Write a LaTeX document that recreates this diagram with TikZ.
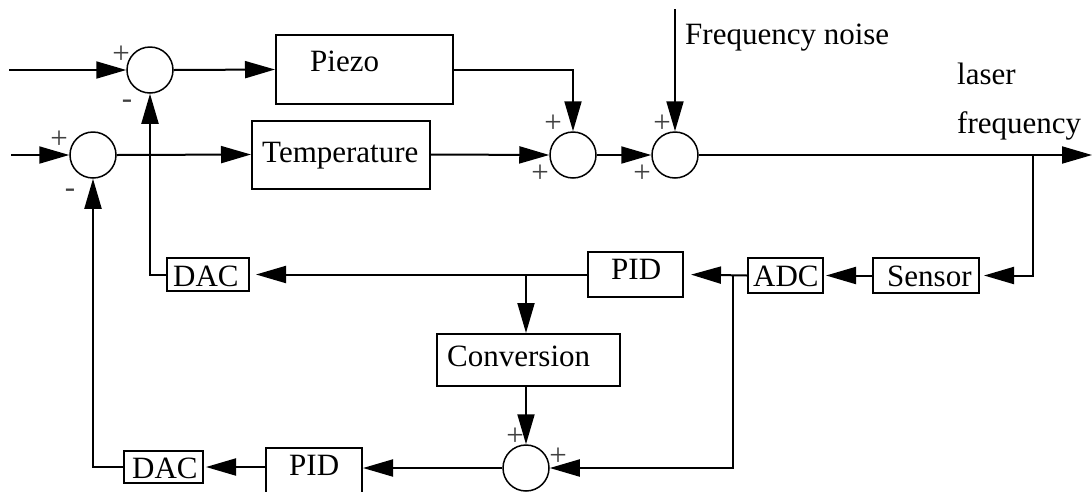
\documentclass[tikz,border=0pt]{standalone}
\usepackage{fontspec}
\setmainfont{Liberation Serif}
\usetikzlibrary{arrows.meta}
\begin{document}
\begin{tikzpicture}[x=1pt,y=-1pt,
 arr/.style={-{Triangle[length=30pt,width=17pt]}, line width=2pt},
 box/.style={draw, line width=2pt, inner sep=0pt},
 sum/.style={draw, circle, line width=1.5pt, minimum size=46pt, inner sep=0pt},
 txt/.style={font=\fontsize{31}{36}\selectfont, inner sep=0pt, anchor=base west},
 sgn/.style={font=\fontsize{31}{36}\selectfont, inner sep=0pt, text=black!75}]
\useasboundingbox (0,0) rectangle (1092,491);

% summing junctions
\node[sum] (s1) at (150,70) {};
\node[sum] (s2) at (93,155) {};
\node[sum] (s3) at (573,155) {};
\node[sum] (s4) at (675,155) {};
\node[sum] (s5) at (526,468) {};

% boxes
\node[box, minimum width=177pt, minimum height=69pt] (piezo) at (364.5,69.5) {};
\node[box, minimum width=178pt, minimum height=68pt] (temp) at (341,154.5) {};
\node[box, minimum width=82pt, minimum height=33pt] (dac1) at (208,274.5) {};
\node[box, minimum width=95pt, minimum height=45pt] (pid1) at (635.5,274.5) {};
\node[box, minimum width=75pt, minimum height=35pt] (adc) at (785.5,275.5) {};
\node[box, minimum width=106pt, minimum height=35pt] (sensor) at (926,275.5) {};
\node[box, minimum width=183pt, minimum height=52pt] (conv) at (528.5,360) {};
\node[box, minimum width=96pt, minimum height=45pt] (pid2) at (314,470.5) {};
\node[box, minimum width=79pt, minimum height=32pt] (dac2) at (163.5,467) {};

% box texts
\node[txt] at (310,71) {Piezo};
\node[txt] at (262,162.5) {Temperature};
\node[txt] at (173,286) {DAC};
\node[txt] at (611,279) {PID};
\node[txt] at (753,286) {ADC};
\node[txt] at (887,286) {Sensor};
\node[txt] at (447,366) {Conversion};
\node[txt] at (289,475) {PID};
\node[txt] at (132,478) {DAC};

% free labels
\node[txt] at (685,44) {Frequency noise};
\node[txt] at (957,84) {laser};
\node[txt] at (957,133) {frequency};

% signs
\node[sgn] at (121,55) {+};
\node[sgn] at (127,104) {-};
\node[sgn] at (59,140) {+};
\node[sgn] at (70,193) {-};
\node[sgn] at (553,124) {+};
\node[sgn] at (540,174) {+};
\node[sgn] at (662,124) {+};
\node[sgn] at (642,174) {+};
\node[sgn] at (515,437) {+};
\node[sgn] at (558,457) {+};

% free ends
\coordinate (in1) at (9,70);
\coordinate (in2) at (11,155);
\coordinate (noise) at (675,9);
\coordinate (out) at (1092,155);
\coordinate (br) at (1033,155);
\coordinate (j1) at (s5 |- pid1.west);
\coordinate (j2) at ([xshift=-14pt]adc.west);

% connectors
\draw[arr] (in1) -- (s1.west);
\draw[arr] (s1.east) -- (piezo.west);
\draw[arr] (piezo.east) -| (s3.north);
\draw[arr] (in2) -- (s2.west);
\draw[arr] (s2.east) -- (temp.west);
\draw[arr] (temp.east) -- (s3.west);
\draw[arr] (s3.east) -- (s4.west);
\draw[arr] (noise) -- (s4.north);
\draw[arr] (s4.east) -- (out);
\draw[arr, shorten >=4pt] (br) |- (sensor.east);
\draw[arr, shorten >=2pt] (sensor.west) -- (adc.east);
\draw[arr, shorten >=7pt] (adc.west) -- (pid1.east);
\draw[arr, shorten >=6pt] (pid1.west) -- (dac1.east);
\draw[arr] (dac1.west) -| (s1.south);
\draw[arr] (j1) -- (s5 |- conv.north);
\draw[arr] (s5 |- conv.south) -- (s5.north);
\draw[arr] (j2) |- (s5.east);
\draw[arr] (s5.west) -- (s5.west -| pid2.east);
\draw[arr, shorten >=2pt] (pid2.west |- dac2.east) -- (dac2.east);
\draw[arr] (dac2.west) -| (s2.south);
\end{tikzpicture}
\end{document}
